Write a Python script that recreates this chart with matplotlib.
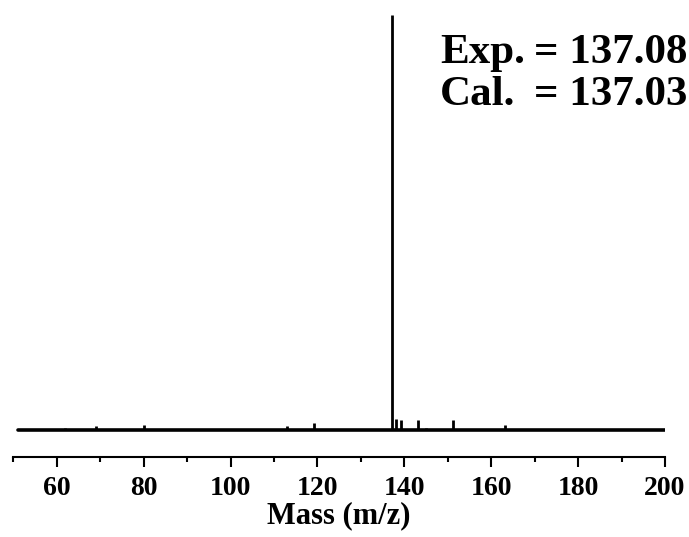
import matplotlib
matplotlib.use("Agg")
import matplotlib.pyplot as plt
from matplotlib.ticker import MultipleLocator

# ---- data ----
peak_mz = [62.0, 69.1, 80.1, 113.1, 119.1, 137.1, 138.2, 139.2, 143.1, 145.0, 151.2, 163.1]
peak_int = [0.3, 0.8, 1.2, 0.9, 1.5, 100.0, 2.6, 2.2, 2.2, 0.3, 2.2, 1.2]
baseline_range = [51.0, 200.0]
x_ticks = [60, 80, 100, 120, 140, 160, 180, 200]
x_label = "Mass (m/z)"
exp_label, exp_value = "Exp.", "= 137.08"
cal_label, cal_value = "Cal.", "= 137.03"

plt.rcParams['font.family'] = ['Liberation Serif', 'DejaVu Serif']
plt.rcParams['font.weight'] = 'bold'

W, H = 689, 537
fig = plt.figure(figsize=(W / 100, H / 100), dpi=100)
ax = fig.add_axes([13.3 / W, 1 - 456.7 / H, (665 - 13.3) / W, (456.7 - 15) / H])

ax.hlines(0, baseline_range[0], baseline_range[1], color='black', lw=2.6, capstyle='round')
ax.vlines(peak_mz, 0, peak_int, color='black', lw=2.0)

ax.set_xlim(50, 200)
ax.set_ylim(-6.56, 100)

for s in ['left', 'right', 'top']:
    ax.spines[s].set_visible(False)
ax.spines['bottom'].set_linewidth(1.5)
ax.set_yticks([])
ax.set_xticks(x_ticks)
ax.xaxis.set_minor_locator(MultipleLocator(10))
ax.tick_params(axis='x', which='major', direction='out', length=7, width=1.5,
               labelsize=20, pad=7)
ax.tick_params(axis='x', which='minor', direction='out', length=3.6, width=1.5)
for lbl in ax.get_xticklabels():
    lbl.set_fontweight('bold')
ax.set_xlabel(x_label, fontsize=22, fontweight='bold', labelpad=0)

fs = 31
fig.text(440 / W, 1 - 62.7 / H, exp_label, fontsize=fs, fontweight='bold', ha='left', va='baseline')
fig.text(687 / W, 1 - 62.7 / H, exp_value, fontsize=fs, fontweight='bold', ha='right', va='baseline')
fig.text(440 / W, 1 - 105 / H, cal_label, fontsize=fs, fontweight='bold', ha='left', va='baseline')
fig.text(687 / W, 1 - 105 / H, cal_value, fontsize=fs, fontweight='bold', ha='right', va='baseline')

fig.savefig("out.png", dpi=100)
